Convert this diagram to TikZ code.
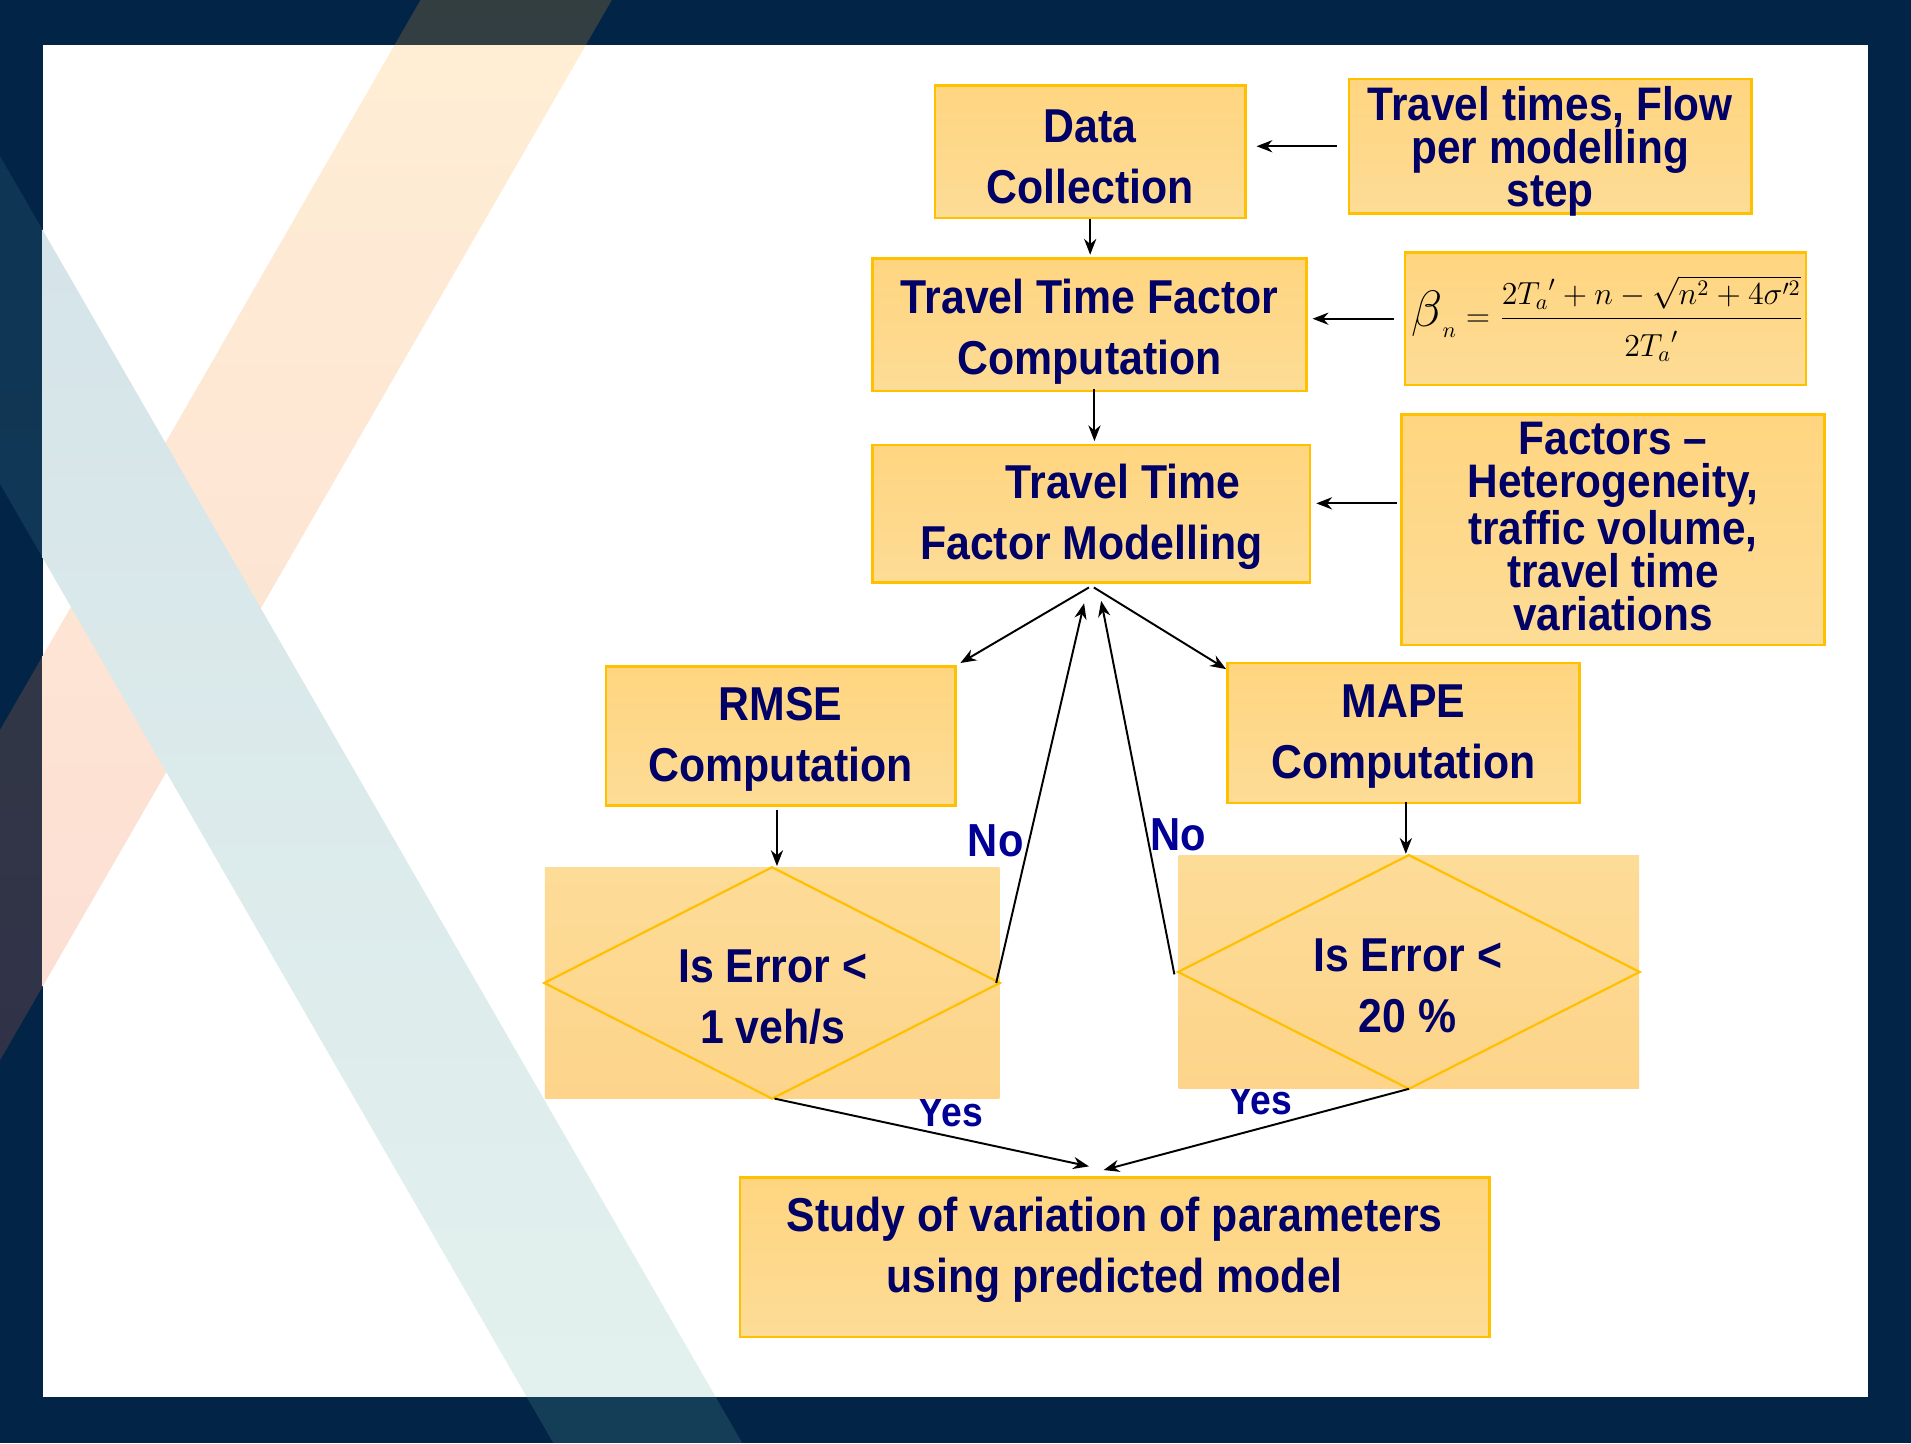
\documentclass[tikz,border=0pt]{standalone}
\usepackage{graphicx}
\usepackage{fontspec}
\usetikzlibrary{arrows.meta,calc}
\newfontfamily\boxfont[FakeStretch=0.9]{Liberation Sans}
\definecolor{navy}{RGB}{1,36,71}
\definecolor{boxtop}{RGB}{255,213,128}
\definecolor{boxbot}{RGB}{253,220,150}
\definecolor{dtop}{RGB}{253,220,152}
\definecolor{dbot}{RGB}{253,212,138}
\definecolor{boxline}{RGB}{255,192,0}
\definecolor{txt}{RGB}{0,0,102}
\definecolor{lbl}{RGB}{0,0,150}
\definecolor{peachtop}{RGB}{255,238,212}
\definecolor{peachbot}{RGB}{252,222,212}
\definecolor{bluetop}{RGB}{212,227,232}
\definecolor{bluebot}{RGB}{227,241,238}
\tikzset{
  sz/.style 2 args={minimum width=#1*0.5pt, minimum height=#2*0.5pt},
  box/.style={draw=boxline, line width=1pt, top color=boxtop, bottom color=boxbot, inner sep=0pt},
  btext/.style={text=txt, align=center, inner sep=0pt,
    font=\boxfont\bfseries\fontsize{19.5}{25}\selectfont},
  ttext/.style={btext, font=\boxfont\bfseries\fontsize{19.3}{17.6}\selectfont},
  drect/.style={top color=dtop, bottom color=dbot, inner sep=0pt},
  dline/.style={draw=boxline, line width=0.9pt},
  arr/.style={-{Stealth[length=6.5pt,width=5pt]}, line width=0.8pt, black},
  lblno/.style={text=lbl, font=\boxfont\bfseries\fontsize{19}{19}\selectfont},
  lblyes/.style={text=lbl, font=\boxfont\bfseries\fontsize{17}{17}\selectfont},
}
\begin{document}
\begin{tikzpicture}[x=0.5pt,y=-0.5pt]
\useasboundingbox (0,0) rectangle (1568,1184);
% background frame with translucent stripes
\fill[navy] (0,0) rectangle (1568,1184);
\shade[fill opacity=0.2, top color={rgb,255:red,250;green,170;blue,40},
  bottom color={rgb,255:red,240;green,110;blue,80}]
  (345,0) -- (502,0) -- (0,870) -- (0,599) -- cycle;
\shade[fill opacity=0.2, top color={rgb,255:red,70;green,120;blue,135},
  bottom color={rgb,255:red,100;green,170;blue,160}]
  (0,128) -- (609,1184) -- (454,1184) -- (0,397) -- cycle;
% white page with light stripes
\fill[white] (35,37) rectangle (1533,1146);
\begin{scope}
  \clip (35,37) rectangle (1533,1146);
  \shade[top color=peachtop, bottom color=peachbot]
    (345,0) -- (502,0) -- (0,870) -- (0,599) -- cycle;
  \shade[top color=bluetop, bottom color=bluebot]
    (0,128) -- (609,1184) -- (454,1184) -- (0,397) -- cycle;
\end{scope}

% labels beneath the decision boxes
\node[lblyes] (yes1) at (780,913) {Yes};
\node[lblyes] (yes2) at (1034,903) {Yes};

% boxes
\node[box, sz={255}{109}] (dc) at (894.5,124.5) {};
\node[btext] (dct) at (894.5,129) {Data\\Collection};
\node[box, sz={330}{110}] (tt) at (1272,120) {};
\node[ttext] (ttt) at (1272,124) {Travel times, Flow\\per modelling\\step};
\node[box, sz={356}{109}] (tfc) at (894,266.5) {};
\node[btext] (tfct) at (894,272) {Travel Time Factor\\Computation};
\node[box, sz={329}{109}] (fm) at (1317.5,261.5) {};
\node[text=black, font=\Large] (fmt) at (1319,261.5)
  {\scalebox{0.91}{$\scalebox{1.6}{$\beta$}_{n} = \displaystyle\frac{2{T_a}' + n - \sqrt{n^2+4\sigma'^2}\rule[-3pt]{0pt}{0pt}}{\rule{0pt}{16pt}2{T_a}'}$}};
\node[box, sz={359}{113}] (tfm) at (895.5,421.5) {};
\node[btext] (tfmt) at (895.5,424) {\hspace*{26pt}Travel Time\\Factor Modelling};
\node[box, sz={347}{189}] (fac) at (1323.5,434.5) {};
\node[ttext] (fact) at (1323.5,432)
  {Factors –\\Heterogeneity,\\traffic volume,\\travel time\\variations};
\node[box, sz={287}{114}] (rmse) at (640.5,604) {};
\node[btext] (rmset) at (640.5,607) {RMSE\\Computation};
\node[box, sz={289}{115}] (mape) at (1151.5,601.5) {};
\node[btext] (mapet) at (1151.5,604) {MAPE\\Computation};

% decisions
\node[drect, sz={373}{189}] (d1) at (633.5,806.5) {};
\draw[dline] (d1.north) -- (d1.east) -- (d1.south) -- (d1.west) -- cycle;
\node[btext] (d1t) at (634,818) {Is Error <\\1 veh/s};
\node[drect, sz={378}{191}] (d2) at (1156,797.5) {};
\draw[dline] (d2.north) -- (d2.east) -- (d2.south) -- (d2.west) -- cycle;
\node[btext] (d2t) at (1155,809) {Is Error <\\20 \%};

\node[box, sz={615}{131}] (study) at (914.5,1031.5) {};
\node[btext] (studyt) at (914.5,1025.5)
  {Study of variation of parameters\\using predicted model};

% connectors
\draw[arr, shorten <=4.5pt, shorten >=4pt] (tt.west) -- (tt.west -| dc.east);
\draw[arr, shorten <=4pt, shorten >=2pt] (fm.west) -- (fm.west -| tfc.east);
\coordinate (p3) at ($(tfm.east)+(0,-8.5)$);
\draw[arr, shorten <=1.5pt, shorten >=2pt] (fac.west |- p3) -- (p3);
\draw[arr, shorten >=1pt] (dc.south) -- (dc.south |- tfc.north);
\coordinate (p5) at ($(tfc.south)+(4,-3)$);
\draw[arr, shorten >=1pt] (p5) -- (p5 |- tfm.north);
\coordinate (tl) at ($(tfm.south)+(-2,3)$);
\coordinate (tr) at ($(tfm.south)+(2,3)$);
\draw[arr] (tl) -- ($(rmse.north east)+(3,-2)$);
\draw[arr] (tr) -- ($(mape.north west)+(0,6)$);
\coordinate (n1) at ($(tfm.south)+(-6,16)$);
\coordinate (n2) at ($(tfm.south)+(8,14)$);
\draw[arr] ($(d1.east)+(-3,0)$) -- (n1);
\draw[arr] ($(d2.west)+(-3,2)$) -- (n2);
\coordinate (r1) at ($(rmse.south)+(-3,3)$);
\draw[arr, shorten >=0.5pt] (r1) -- (r1 |- d1.north);
\coordinate (m1) at ($(mape.south)+(2,-2)$);
\draw[arr, shorten >=0.5pt] (m1) -- (m1 |- d2.north);
\coordinate (s1) at ($(study.north)+(-21,-8)$);
\coordinate (s2) at ($(study.north)+(-9,-5)$);
\draw[arr] ($(d1.south)+(2,0)$) -- (s1);
\draw[arr] (d2.south) -- (s2);

% No labels
\node[lblno] (no1) at (817,690) {No};
\node[lblno] (no2) at (967,685) {No};
\end{tikzpicture}
\end{document}
